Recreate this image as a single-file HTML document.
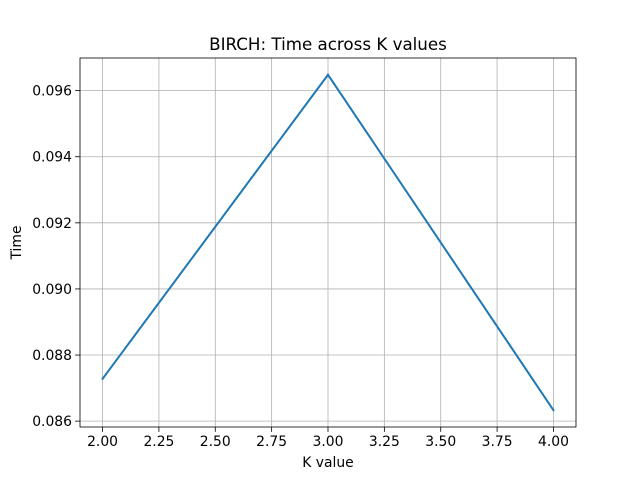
<!DOCTYPE html>
<html><head><meta charset="utf-8"><style>
body{margin:0;background:#fff;}
svg{display:block;font-family:"DejaVu Sans","Liberation Sans",sans-serif;}
</style></head><body>
<svg id="chart" width="640" height="480"></svg>
<script>
const kValues = [2, 3, 4];
const timeValues = [0.08728, 0.09648, 0.08633];
const xTicks = [2.00, 2.25, 2.50, 2.75, 3.00, 3.25, 3.50, 3.75, 4.00];
const yTicks = [0.086, 0.088, 0.090, 0.092, 0.094, 0.096];

const svg = document.getElementById('chart');
const NS = 'http://www.w3.org/2000/svg';
const L = 80, R = 576, T = 58, B = 427;
const xmin0 = Math.min(...kValues), xmax0 = Math.max(...kValues);
const ymin0 = Math.min(...timeValues), ymax0 = Math.max(...timeValues);
const xm = (xmax0 - xmin0) * 0.05, ym = (ymax0 - ymin0) * 0.05;
const xMin = xmin0 - xm, xMax = xmax0 + xm, yMin = ymin0 - ym, yMax = ymax0 + ym;
const xs = v => L + (v - xMin) / (xMax - xMin) * (R - L);
const ys = v => B - (v - yMin) / (yMax - yMin) * (B - T);

function mk(tag, attrs, text) {
  const e = document.createElementNS(NS, tag);
  for (const k in attrs) e.setAttribute(k, attrs[k]);
  if (text !== undefined) e.textContent = text;
  svg.appendChild(e);
  return e;
}

xTicks.forEach(t => {
  const x = xs(t);
  const g = mk('line', {x1: x, x2: x, y1: T, y2: B, stroke: '#b0b0b0', 'stroke-width': 0.8});
  
  
  mk('line', {x1: x, x2: x, y1: B, y2: B + 4.9, stroke: '#000', 'stroke-width': 0.8});
  const lb = mk('text', {x: x, y: B + 19, 'text-anchor': 'middle', 'font-size': 13.9}, t.toFixed(2));
  
  
});
yTicks.forEach(t => {
  const y = ys(t);
  const g = mk('line', {x1: L, x2: R, y1: y, y2: y, stroke: '#b0b0b0', 'stroke-width': 0.8});
  
  
  mk('line', {x1: L - 4.9, x2: L, y1: y, y2: y, stroke: '#000', 'stroke-width': 0.8});
  const lb = mk('text', {x: L - 8, y: y + 5, 'text-anchor': 'end', 'font-size': 13.9}, t.toFixed(3));
  
  
});

const pts = kValues.map((k, i) => xs(k) + ',' + ys(timeValues[i])).join(' ');
const line = mk('polyline', {points: pts, fill: 'none', stroke: '#1f77b4', 'stroke-width': 2, 'stroke-linecap': 'square'});



const frame = mk('rect', {x: L, y: T, width: R - L, height: B - T, fill: 'none', stroke: '#000', 'stroke-width': 0.8});



const title = mk('text', {x: (L + R) / 2, y: T - 8, 'text-anchor': 'middle', 'font-size': 16.7}, 'BIRCH: Time across K values');


const xt = mk('text', {x: (L + R) / 2, y: 467, 'text-anchor': 'middle', 'font-size': 13.9}, 'K value');


const yt = mk('text', {x: 21, y: (T + B) / 2, 'text-anchor': 'middle', 'font-size': 13.9, transform: 'rotate(-90 21 ' + (T + B) / 2 + ')'}, 'Time');


</script>
</body></html>
